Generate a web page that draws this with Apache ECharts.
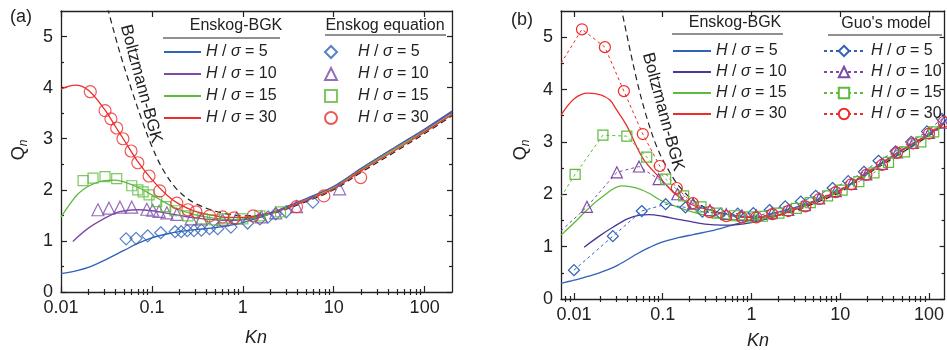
<!DOCTYPE html>
<html>
<head>
<meta charset="utf-8">
<script src="https://cdn.jsdelivr.net/npm/echarts@6/dist/echarts.min.js"></script>
<style>
  html, body { margin: 0; padding: 0; background: #fff; }
  #chart { width: 947px; height: 350px; }
</style>
</head>
<body>
<div id="chart"></div>
<script>
// ---- ticks ----
const xMajorTicks = [0.01, 0.1, 1, 10, 100]
const xMinorTicksA = [0.02, 0.03, 0.04, 0.05, 0.06, 0.07, 0.08, 0.09, 0.2, 0.3, 0.4, 0.5, 0.6, 0.7, 0.8, 0.9,
  2, 3, 4, 5, 6, 7, 8, 9, 20, 30, 40, 50, 60, 70, 80, 90]
const xMinorTicksB = [0.008, 0.009, 0.02, 0.03, 0.04, 0.05, 0.06, 0.07, 0.08, 0.09, 0.2, 0.3, 0.4, 0.5, 0.6, 0.7, 0.8, 0.9,
  2, 3, 4, 5, 6, 7, 8, 9, 20, 30, 40, 50, 60, 70, 80, 90]
const yMajorTicks = [0, 1, 2, 3, 4, 5]
const yMinorTicks = [0.5, 1.5, 2.5, 3.5, 4.5]
const hValues = ["5", "10", "15", "30"]

// ---- panel (a): Enskog-BGK curves [Kn, Qn] ----
const aBgk5 = [[0.01, 0.36], [0.015, 0.42], [0.02, 0.48], [0.03, 0.62], [0.05, 0.82], [0.07, 0.95], [0.1, 1.06],
  [0.15, 1.14], [0.2, 1.18], [0.3, 1.22], [0.5, 1.26], [0.7, 1.3], [1, 1.36], [2, 1.53], [3, 1.67], [5, 1.83],
  [10, 2.07], [20, 2.42], [50, 2.86], [100, 3.19], [200, 3.54]]
const aBgk10 = [[0.0135, 0.99], [0.02, 1.25], [0.03, 1.44], [0.04, 1.55], [0.05, 1.59], [0.07, 1.61], [0.1, 1.59],
  [0.15, 1.54], [0.2, 1.5], [0.3, 1.45], [0.5, 1.41], [0.7, 1.4], [1, 1.41], [2, 1.53], [3, 1.66], [5, 1.82],
  [10, 2.06], [20, 2.41], [50, 2.85], [100, 3.17], [200, 3.52]]
const aBgk15 = [[0.01, 1.47], [0.0125, 1.72], [0.015, 1.9], [0.02, 2.07], [0.03, 2.18], [0.04, 2.19], [0.05, 2.15],
  [0.07, 2.05], [0.1, 1.9], [0.15, 1.72], [0.2, 1.61], [0.3, 1.51], [0.5, 1.44], [0.7, 1.42], [1, 1.43], [2, 1.53],
  [3, 1.65], [5, 1.8], [10, 2.04], [20, 2.39], [50, 2.83], [100, 3.15], [200, 3.49]]
const aBgk30 = [[0.01, 3.97], [0.0143, 4.05], [0.02, 3.95], [0.03, 3.58], [0.04, 3.23], [0.05, 2.96], [0.07, 2.55],
  [0.1, 2.2], [0.15, 1.88], [0.2, 1.72], [0.3, 1.58], [0.5, 1.49], [0.7, 1.46], [1, 1.46], [2, 1.55], [3, 1.64],
  [5, 1.79], [10, 2.02], [20, 2.37], [50, 2.8], [100, 3.13], [200, 3.47]]
const aBoltz = [[0.0325, 5.56], [0.045, 4.65], [0.06, 3.95], [0.08, 3.3], [0.1, 2.85], [0.13, 2.42], [0.18, 2.05],
  [0.25, 1.82], [0.33, 1.7], [0.5, 1.58], [0.7, 1.52], [1, 1.49], [2, 1.53], [3, 1.62], [5, 1.77], [10, 2.0],
  [20, 2.34], [50, 2.77], [100, 3.1], [200, 3.45]]

// ---- panel (a): Enskog equation points ----
const aEq5 = [[0.052, 1.04], [0.067, 1.05], [0.09, 1.1], [0.125, 1.16], [0.18, 1.18], [0.21, 1.18], [0.245, 1.2],
  [0.29, 1.2], [0.35, 1.21], [0.43, 1.24], [0.53, 1.24], [0.74, 1.27], [1.13, 1.35], [1.54, 1.43], [1.9, 1.47],
  [2.3, 1.53], [3.0, 1.57], [5.9, 1.76]]
const aEq10 = [[0.0255, 1.61], [0.0337, 1.64], [0.0445, 1.66], [0.06, 1.66], [0.088, 1.62], [0.102, 1.6],
  [0.12, 1.58], [0.146, 1.55], [0.188, 1.52], [0.27, 1.43], [0.35, 1.43], [0.6, 1.41], [0.86, 1.45], [1.6, 1.47],
  [2.3, 1.55], [3.9, 1.67], [11.6, 2.02]]
const aEq15 = [[0.0175, 2.18], [0.0225, 2.23], [0.0305, 2.26], [0.041, 2.22], [0.06, 2.08], [0.07, 2.0], [0.08, 1.96],
  [0.093, 1.9], [0.113, 1.77], [0.142, 1.67], [0.18, 1.59], [0.249, 1.49], [0.36, 1.43], [0.49, 1.41], [0.63, 1.43],
  [1.0, 1.43], [1.54, 1.49], [2.6, 1.57]]
const aEq30 = [[0.021, 3.92], [0.0305, 3.55], [0.0354, 3.39], [0.041, 3.21], [0.048, 3.0], [0.059, 2.76], [0.07, 2.53],
  [0.093, 2.27], [0.122, 1.98], [0.188, 1.74], [0.249, 1.61], [0.305, 1.57], [0.43, 1.49], [0.6, 1.47], [0.8, 1.45],
  [1.3, 1.49], [3.9, 1.67], [7.8, 1.88], [19.8, 2.24]]

// ---- panel (b): Enskog-BGK curves ----
const bBgk5 = [[0.00714, 0.3], [0.01, 0.36], [0.0164, 0.46], [0.0274, 0.6], [0.039, 0.74], [0.051, 0.86], [0.07, 0.98],
  [0.093, 1.07], [0.15, 1.17], [0.22, 1.23], [0.35, 1.3], [0.55, 1.39], [0.8, 1.47], [1.2, 1.55], [1.8, 1.64],
  [3, 1.74], [5, 1.87], [10, 2.08], [20, 2.42], [50, 2.85], [100, 3.15], [150, 3.36]]
const bBgk10 = [[0.013, 0.99], [0.02, 1.22], [0.0274, 1.37], [0.04, 1.53], [0.055, 1.6], [0.07, 1.61], [0.1, 1.58],
  [0.15, 1.52], [0.22, 1.47], [0.3, 1.43], [0.47, 1.41], [0.7, 1.42], [1, 1.46], [1.5, 1.53], [2, 1.6], [3, 1.71],
  [5, 1.85], [10, 2.07], [20, 2.41], [50, 2.84], [100, 3.14], [150, 3.36]]
const bBgk15 = [[0.00714, 1.22], [0.01, 1.45], [0.014, 1.7], [0.02, 1.93], [0.0346, 2.16], [0.05, 2.12], [0.07, 2.02],
  [0.093, 1.89], [0.15, 1.75], [0.22, 1.66], [0.3, 1.6], [0.52, 1.53], [0.75, 1.51], [1.2, 1.52], [2, 1.6],
  [3, 1.7], [5, 1.85], [10, 2.07], [20, 2.41], [50, 2.84], [100, 3.14], [150, 3.36]]
const bBgk30 = [[0.00714, 3.51], [0.01, 3.82], [0.0144, 3.93], [0.02, 3.9], [0.0254, 3.8], [0.03, 3.62], [0.039, 3.32],
  [0.06, 2.68], [0.093, 2.31], [0.144, 1.98], [0.22, 1.79], [0.34, 1.7], [0.6, 1.6], [1.2, 1.56], [2, 1.6],
  [3, 1.7], [5, 1.85], [10, 2.07], [20, 2.41], [50, 2.84], [100, 3.14], [150, 3.36]]
const bBoltz = [[0.0338, 5.6], [0.0346, 5.5], [0.051, 4.18], [0.066, 3.47], [0.086, 2.9], [0.111, 2.52], [0.155, 2.14],
  [0.25, 1.82], [0.5, 1.62], [1, 1.56], [2, 1.6], [3, 1.68], [5, 1.82], [10, 2.04], [20, 2.38], [50, 2.8],
  [100, 3.12], [150, 3.33]]

// ---- panel (b): Guo's model ----
const bGuo5 = [[0.01, 0.55], [0.0274, 1.2], [0.058, 1.68], [0.108, 1.81], [0.18, 1.75], [0.28, 1.67], [0.45, 1.63],
  [0.7, 1.63], [1.05, 1.64], [1.6, 1.7], [2.4, 1.77], [3.6, 1.86], [5.3, 1.97], [8.2, 2.12], [12.3, 2.25],
  [18.5, 2.43], [27, 2.64], [42, 2.82], [63, 3.0], [95, 3.2], [140, 3.44]]
const bGuo10 = [[0.00714, 1.3], [0.014, 1.76], [0.0304, 2.42], [0.054, 2.53], [0.09, 2.29], [0.146, 2.0], [0.22, 1.82],
  [0.34, 1.7], [0.52, 1.62], [0.78, 1.6], [1.13, 1.6], [1.7, 1.64], [2.6, 1.7], [4, 1.79], [5.8, 1.92], [8.9, 2.06],
  [13.3, 2.2], [19.7, 2.38], [29.6, 2.58], [43.6, 2.8], [66, 2.98], [100, 3.17], [146, 3.37]]
const bGuo15 = [[0.00714, 1.95], [0.0103, 2.38], [0.0212, 3.13], [0.0394, 3.11], [0.066, 2.71], [0.108, 2.29],
  [0.172, 1.97], [0.27, 1.76], [0.41, 1.64], [0.64, 1.59], [0.95, 1.57], [1.33, 1.58], [2.04, 1.64], [3.2, 1.73],
  [4.6, 1.84], [7.2, 1.97], [10.5, 2.08], [16.2, 2.24], [24, 2.41], [35, 2.61], [53, 2.81], [81, 3.0], [113, 3.19]]
const bGuo30 = [[0.00714, 4.5], [0.0123, 5.15], [0.0223, 4.81], [0.0365, 3.97], [0.0596, 3.15], [0.0925, 2.54],
  [0.144, 2.12], [0.218, 1.83], [0.338, 1.66], [0.52, 1.58], [0.78, 1.56], [1.13, 1.56], [1.72, 1.62], [2.6, 1.68],
  [4.05, 1.77], [5.8, 1.91], [8.9, 2.04], [13.3, 2.19], [19.7, 2.37], [29.6, 2.56], [43.6, 2.79], [66, 2.97],
  [100, 3.16], [146, 3.38]]

const FONT = "'Liberation Sans', Arial, sans-serif"
const INK = "#222"
const BLUE = "#2f62b8"
const PURPLE = "#7c4aa8"
const INDIGO = "#46399a"
const GREEN = "#5dba3b"
const RED = "#ee2c2c"
const CLEAR = "rgba(255,255,255,0)"

const chart = echarts.init(document.getElementById("chart"), null, { renderer: "canvas" })

function xAxes(gridIndex, min, max, minor) {
  const base = {
    type: "log", logBase: 10, gridIndex, min, max,
    splitLine: { show: false }, axisLabel: { show: false },
    axisLine: { show: false }, axisTick: { show: false },
  }
  const line = { show: true, onZero: false, lineStyle: { color: INK, width: 1.3 } }
  const tick = (vals, len) => ({ show: true, inside: true, length: len, customValues: vals, lineStyle: { color: INK, width: 1.2 } })
  return [
    {
      ...base, position: "bottom", axisLine: line, axisTick: tick(xMajorTicks, 6),
      axisLabel: { show: true, customValues: xMajorTicks, color: INK, fontSize: 18, fontFamily: FONT, margin: 7, formatter: (v) => String(v) },
    },
    { ...base, position: "bottom", axisTick: tick(minor, 3) },
    { ...base, position: "top", axisLine: line, axisTick: tick(xMajorTicks, 6) },
    { ...base, position: "top", axisTick: tick(minor, 3) },
  ]
}

function yAxes(gridIndex) {
  const base = {
    type: "value", gridIndex, min: 0, max: 5.5,
    splitLine: { show: false }, axisLabel: { show: false },
    axisLine: { show: false }, axisTick: { show: false },
  }
  const line = { show: true, onZero: false, lineStyle: { color: INK, width: 1.3 } }
  const tick = (vals, len) => ({ show: true, inside: true, length: len, customValues: vals, lineStyle: { color: INK, width: 1.2 } })
  return [
    {
      ...base, position: "left", axisLine: line, axisTick: tick(yMajorTicks, 6),
      axisLabel: { show: true, customValues: yMajorTicks, color: INK, fontSize: 18, fontFamily: FONT, margin: 8 },
    },
    { ...base, position: "left", axisTick: tick(yMinorTicks, 3) },
    { ...base, position: "right", axisLine: line, axisTick: tick(yMajorTicks, 5) },
    { ...base, position: "right", axisTick: tick(yMinorTicks, 3) },
  ]
}

function bgk(name, data, color, p) {
  return {
    name, type: "line", xAxisIndex: p * 4, yAxisIndex: p * 4, data, smooth: 0.35, symbol: "none",
    lineStyle: { color, width: 1.3 }, itemStyle: { color }, z: 2, silent: true,
  }
}
function eq(name, data, color, symbol, size) {
  return {
    name, type: "scatter", xAxisIndex: 0, yAxisIndex: 0, data, symbol, symbolSize: size,
    itemStyle: { color: CLEAR, borderColor: color, borderWidth: 1.2 }, z: 3, silent: true,
  }
}
function guo(name, data, color, symbol, size) {
  const pts = data.map((d) => (d[0] < 0.0072 ? { value: d, symbol: "none" } : d))
  return {
    name, type: "line", xAxisIndex: 4, yAxisIndex: 4, data: pts, symbol, symbolSize: size, showSymbol: true,
    lineStyle: { color, width: 1, type: [3, 3] },
    itemStyle: { color: CLEAR, borderColor: color, borderWidth: 1.2 }, z: 3, silent: true,
  }
}
function boltz(data, p) {
  return {
    name: "Boltzmann-BGK " + p, type: "line", xAxisIndex: p * 4, yAxisIndex: p * 4, data, smooth: 0.35,
    symbol: "none", lineStyle: { color: INK, width: 1.2, type: [6, 4] }, z: 2, silent: true,
  }
}

const series = [
  boltz(aBoltz, 0),
  bgk("aB=5", aBgk5, BLUE, 0), bgk("aB=10", aBgk10, PURPLE, 0), bgk("aB=15", aBgk15, GREEN, 0), bgk("aB=30", aBgk30, RED, 0),
  eq("aE=5", aEq5, BLUE, "diamond", 12), eq("aE=10", aEq10, PURPLE, "triangle", 12),
  eq("aE=15", aEq15, GREEN, "rect", 10), eq("aE=30", aEq30, RED, "circle", 12),
  boltz(bBoltz, 1),
  bgk("bB=5", bBgk5, BLUE, 1), bgk("bB=10", bBgk10, INDIGO, 1), bgk("bB=15", bBgk15, GREEN, 1), bgk("bB=30", bBgk30, RED, 1),
  guo("bG=5", bGuo5, BLUE, "diamond", 11), guo("bG=10", bGuo10, PURPLE, "triangle", 11),
  guo("bG=15", bGuo15, GREEN, "rect", 10), guo("bG=30", bGuo30, RED, "circle", 11),
]

function legendText(padLeft) {
  return {
    color: INK, fontSize: 16, fontFamily: FONT, padding: [0, 0, 0, padLeft],
    rich: { i: { fontStyle: "italic", fontSize: 16, fontFamily: FONT, color: INK } },
  }
}
function legend(prefix, left, top, itemWidth, itemHeight, gap, padLeft, extra) {
  return {
    orient: "vertical", left, top, itemWidth, itemHeight, itemGap: gap, padding: 0,
    selectedMode: false, textStyle: legendText(padLeft),
    data: hValues.map((h) => prefix + "=" + h),
    formatter: (n) => "{i|H} / {i|σ} = " + n.split("=")[1],
    ...extra,
  }
}

function label(text, x, y, size, extra) {
  return {
    type: "text", x, y, silent: true, ...extra,
    style: { text, fill: INK, font: size + "px " + FONT, align: "center", verticalAlign: "middle", textAlign: "center", textVerticalAlign: "middle" },
  }
}
function rule(x1, x2, y) {
  return { type: "line", silent: true, shape: { x1, y1: y, x2, y2: y }, style: { stroke: INK, lineWidth: 1.2 } }
}
function qn(x, y) {
  return {
    type: "text", x, y, rotation: Math.PI / 2, silent: true,
    style: {
      text: "{q|Q}{n|n}", align: "center", verticalAlign: "middle", textAlign: "center", textVerticalAlign: "middle",
      rich: {
        q: { fontSize: 18, fontFamily: FONT, fill: INK, color: INK },
        n: { fontSize: 12, fontStyle: "italic", fontFamily: FONT, fill: INK, color: INK, padding: [10, 0, 0, 0] },
      },
    },
  }
}
function kn(x, y) {
  return {
    type: "text", x, y, silent: true,
    style: { text: "Kn", fill: INK, font: "italic 18px " + FONT, align: "center", verticalAlign: "middle", textAlign: "center", textVerticalAlign: "middle" },
  }
}

const hideDot = { itemStyle: { color: CLEAR, borderColor: CLEAR, borderWidth: 0 } }
const whiteFill = { itemStyle: { color: "#fff" } }

chart.setOption({
  animation: false,
  backgroundColor: "#fff",
  grid: [
    { left: 61, top: 11, width: 391, height: 281 },
    { left: 561, top: 11, width: 385, height: 288 },
  ],
  xAxis: [...xAxes(0, 0.01, 200, xMinorTicksA), ...xAxes(1, 0.00714, 150, xMinorTicksB)],
  yAxis: [...yAxes(0), ...yAxes(1)],
  legend: [
    legend("aB", 163, 44, 37, 12, 6, 0, hideDot),
    legend("aE", 324, 44, 12, 12, 6, 16, {}),
    legend("bB", 672, 43, 38, 12, 5, 0, hideDot),
    legend("bG", 823, 43, 40, 13, 5, 2, whiteFill),
  ],
  series,
  graphic: [
    label("(a)", 21, 17, 18),
    label("(b)", 522, 20, 18),
    qn(19, 150), qn(521, 150),
    kn(256, 338), kn(758, 341),
    label("Enskog-BGK", 236, 26, 16), rule(163, 280, 38),
    label("Enskog equation", 385, 26, 16), rule(325, 446, 35),
    label("Enskog-BGK", 735, 23, 16), rule(672, 783, 34),
    label("Guo's model", 886, 24, 16), rule(828, 942, 35),
    label("Boltzmann-BGK", 141, 84, 17, { rotation: -75 * Math.PI / 180 }),
    label("Boltzmann-BGK", 663, 112, 17, { rotation: -75 * Math.PI / 180 }),
  ],
})
</script>
</body>
</html>
